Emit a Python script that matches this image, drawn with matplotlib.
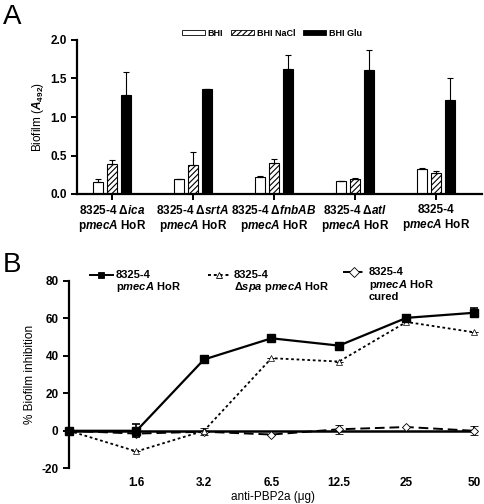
import numpy as np
import matplotlib
matplotlib.use("Agg")
import matplotlib.pyplot as plt
from matplotlib.lines import Line2D
from matplotlib.patches import Patch

plt.rcParams['font.family'] = ['Liberation Sans', 'DejaVu Sans']
plt.rcParams['font.weight'] = 'bold'
plt.rcParams['mathtext.fontset'] = 'custom'
plt.rcParams['mathtext.rm'] = 'Liberation Sans:bold'
plt.rcParams['mathtext.it'] = 'Liberation Sans:bold:italic'
plt.rcParams['mathtext.bf'] = 'Liberation Sans:bold'
plt.rcParams['hatch.linewidth'] = 0.8
plt.rcParams['axes.unicode_minus'] = False

# ---- panel A data
strains = ["8325-4 Δ$\\it{ica}$\np$\\it{mecA}$ HoR",
           "8325-4 Δ$\\it{srtA}$\np$\\it{mecA}$ HoR",
           "8325-4 Δ$\\it{fnbAB}$\np$\\it{mecA}$ HoR",
           "8325-4 Δ$\\it{atl}$\np$\\it{mecA}$ HoR",
           "8325-4\np$\\it{mecA}$ HoR"]
media = ["BHI", "BHI NaCl", "BHI Glu"]
bhi = [0.16, 0.19, 0.22, 0.17, 0.33]
bhi_err = [0.03, 0.005, 0.02, 0.005, 0.005]
nacl = [0.39, 0.38, 0.40, 0.19, 0.27]
nacl_err = [0.05, 0.16, 0.06, 0.02, 0.03]
glu = [1.29, 1.36, 1.62, 1.61, 1.22]
glu_err = [0.29, 0.01, 0.18, 0.26, 0.29]

# ---- panel B data
doses = ["", "1.6", "3.2", "6.5", "12.5", "25", "50"]
wt = [0, 0, 38, 49.3, 45.4, 60.2, 62.9]
wt_err = [0, 3.5, 1, 1.5, 1, 1.5, 2.5]
spa = [0, -11, 0, 38.7, 36.9, 58, 52.5]
spa_err = [0, 0, 0, 0, 0, 0, 0]
cured = [0, -1.5, -0.5, -2, 0.8, 2, 0]
cured_err = [0, 1.5, 2, 0.5, 2.5, 0, 2.5]

W, H = 485, 504
fig = plt.figure(figsize=(W / 100, H / 100), dpi=100)


def fx(px):
    return px / W


def fy(py):
    return 1 - py / H


def style_axes(ax):
    for s in ['top', 'right']:
        ax.spines[s].set_visible(False)
    for s in ['left', 'bottom']:
        ax.spines[s].set_linewidth(1.6)
    ax.tick_params(width=1.4, length=4, labelsize=8.5)


# ================= A
axA = fig.add_axes([fx(77), fy(194), fx(482) - fx(77), fy(40) - fy(194)])
style_axes(axA)
x = np.arange(len(strains))
bw = 0.123
off = 0.172
ekw = dict(capsize=2.5, elinewidth=0.8, capthick=0.8)
axA.bar(x - off, bhi, bw, color='white', edgecolor='black', linewidth=0.8,
        yerr=[np.zeros(5), bhi_err], error_kw=ekw)
axA.bar(x, nacl, bw, color='white', edgecolor='black', hatch='//////', linewidth=0.8,
        yerr=[np.zeros(5), nacl_err], error_kw=ekw)
axA.bar(x + off, glu, bw, color='black', edgecolor='black', linewidth=0.8,
        yerr=[np.zeros(5), glu_err], error_kw=ekw)
axA.set_xlim(-0.43, 4.57)
axA.set_ylim(0, 2.0)
axA.set_yticks([0, 0.5, 1.0, 1.5, 2.0])
axA.set_yticklabels(["0.0", "0.5", "1.0", "1.5", "2.0"])
axA.set_xticks(x)
axA.set_xticklabels(strains, fontsize=8.5, linespacing=1.1)
axA.tick_params(axis='x', length=4, pad=3)
axA.set_ylabel("Biofilm ($\\it{A}_{\\rm{492}}$)", fontsize=8.5, labelpad=3)

hA = [Patch(facecolor='white', edgecolor='black', linewidth=0.6),
      Patch(facecolor='white', edgecolor='black', hatch='//////', linewidth=0.6),
      Patch(facecolor='black', edgecolor='black', linewidth=0.6)]
fig.legend(hA, media, loc='center', bbox_to_anchor=(fx(272), fy(33)), ncol=3,
           frameon=False, fontsize=6.5, handlelength=2.5, handleheight=0.5,
           columnspacing=0.9, handletextpad=0.3)

fig.text(fx(3), fy(4), "A", fontsize=20, fontweight='normal', va='top', ha='left')

# ================= B
axB = fig.add_axes([fx(69), fy(468.3), fx(478) - fx(69), fy(280.7) - fy(468.3)])
style_axes(axB)
axB.spines['bottom'].set_visible(False)
xb = np.arange(len(doses))
axB.axhline(0, color='black', lw=1.8, zorder=1)
axB.errorbar(xb, cured, yerr=cured_err, color='black', ls=(0, (5, 2.5)), lw=1.4,
             marker='D', ms=4.5, mfc='white', mec='black', mew=0.6,
             capsize=3, elinewidth=1.2, capthick=1.2, clip_on=False, zorder=3)
axB.errorbar(xb, spa, yerr=spa_err, color='black', ls=(0, (1.5, 1.5)), lw=1.3,
             marker='^', ms=5, mfc='white', mec='black', mew=0.5,
             capsize=3, elinewidth=1.2, capthick=1.2, clip_on=False, zorder=4)
axB.errorbar(xb, wt, yerr=wt_err, color='black', ls='-', lw=1.6,
             marker='s', ms=5.5, mfc='black', mec='black',
             capsize=3, elinewidth=1.2, capthick=1.2, clip_on=False, zorder=5)
axB.set_xlim(0, 6.06)
axB.set_ylim(-20, 80)
axB.set_yticks([-20, 0, 20, 40, 60, 80])
axB.set_xticks(xb[1:])
axB.set_xticklabels(doses[1:], fontsize=8.5)
axB.tick_params(axis='x', length=0, pad=6)
axB.set_ylabel("% Biofilm inhibition", fontsize=8.5, labelpad=4)
axB.set_xlabel("anti-PBP2a (μg)", fontsize=8.5, labelpad=2)

# legend of B, drawn by hand so the symbol sits on the first line
entries = [
    (90, 113, 116, 275, '-', 's', 'black', "8325-4\np$\\it{mecA}$ HoR"),
    (208, 230, 234, 275, (0, (1.5, 1.5)), '^', 'white', "8325-4\nΔ$\\it{spa}$ p$\\it{mecA}$ HoR"),
    (343, 366, 369, 272, (0, (4, 2)), 'D', 'white', "8325-4\np$\\it{mecA}$ HoR\ncured"),
]
for x0, x1, tx, ty, ls, mk, mfc, lab in entries:
    fig.add_artist(Line2D([fx(x0), fx(x1)], [fy(ty), fy(ty)], color='black', ls=ls, lw=1.4,
                          transform=fig.transFigure))
    fig.add_artist(Line2D([fx((x0 + x1) / 2)], [fy(ty)], marker=mk, ms=5, mfc=mfc,
                          mec='black', mew=0.6, ls='none', transform=fig.transFigure))
    fig.text(fx(tx), fy(ty - 5), lab, fontsize=8, va='top', ha='left', linespacing=1.05)

fig.text(fx(3), fy(252), "B", fontsize=20, fontweight='normal', va='top', ha='left')

fig.savefig("out.png", dpi=100)
